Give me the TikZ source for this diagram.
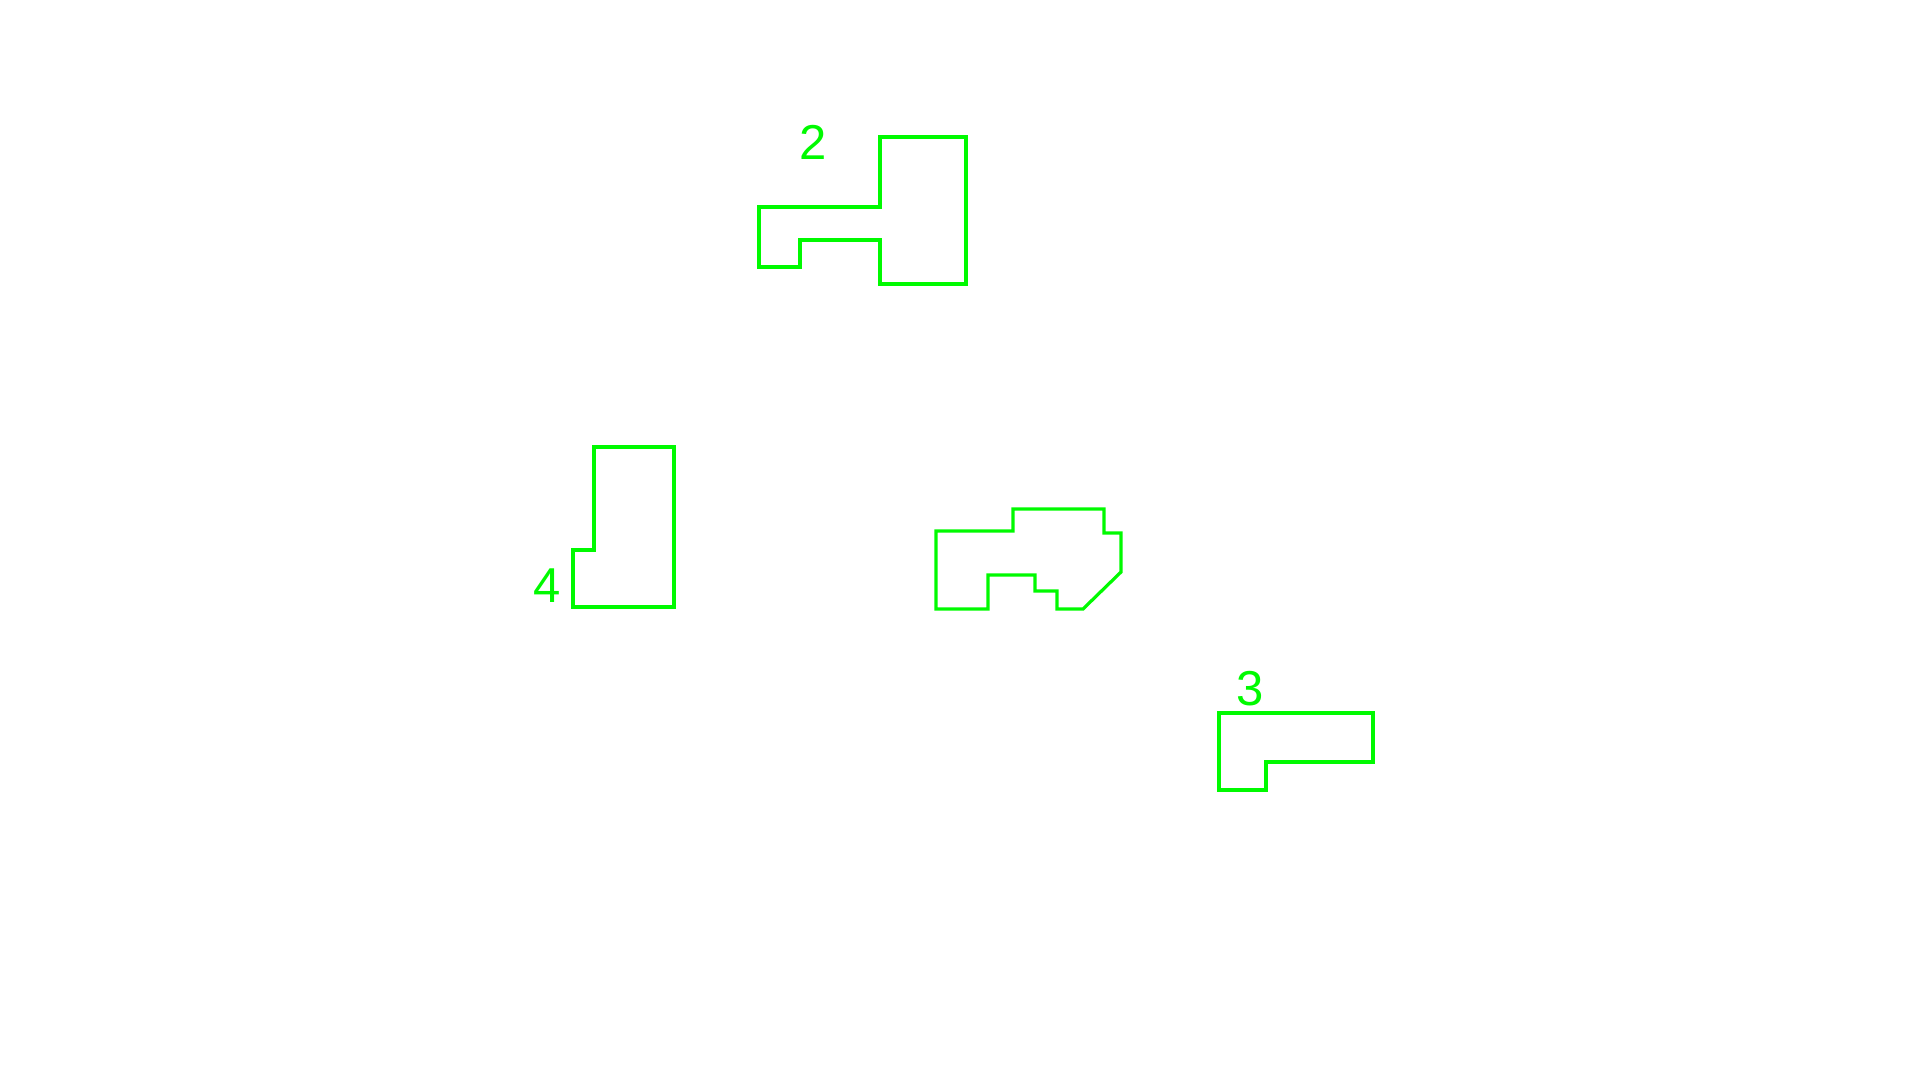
\documentclass[tikz,border=0pt]{standalone}
\usepackage{fontspec}
\setmainfont{Liberation Sans}
\usepackage{tikz}
\usetikzlibrary{positioning}

\begin{document}
\begin{tikzpicture}[x=0.5pt, y=-0.5pt]
    % Define styles
    \tikzset{
        outline/.style={draw=plotgreen, line width=1.6pt, line join=miter},
        tag/.style={text=plotgreen, font=\fontsize{24.5}{24.5}\selectfont, inner sep=0pt},
    }
    % Define colors
    \definecolor{plotgreen}{RGB}{0,250,0}

    \useasboundingbox (0,0) rectangle (1920,1080);

    % Outlines
    \draw[outline] (759,207) -- (880,207) -- (880,137) -- (966,137) -- (966,284)
        -- (880,284) -- (880,240) -- (800,240) -- (800,267) -- (759,267) -- cycle;
    \draw[outline] (594,447) -- (674,447) -- (674,607) -- (573,607) -- (573,550)
        -- (594,550) -- cycle;
    \draw[outline] (936,531) -- (1013,531) -- (1013,509) -- (1104,509) -- (1104,533)
        -- (1121,533) -- (1121,572) -- (1083,609) -- (1057,609) -- (1057,591)
        -- (1035,591) -- (1035,575) -- (988,575) -- (988,609) -- (936,609) -- cycle;
    \draw[outline] (1219,713) -- (1373,713) -- (1373,762) -- (1266,762) -- (1266,790)
        -- (1219,790) -- cycle;

    % Labels
    \node[tag] (lbltwo) at (813,142) {2};
    \node[tag] (lblfour) at (547,586) {4};
    \node[tag] (lblthree) at (1250,689) {3};

\end{tikzpicture}
\end{document}
